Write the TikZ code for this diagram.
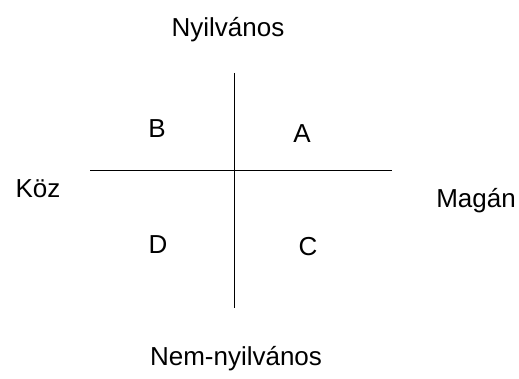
\documentclass[tikz,border=0pt]{standalone}
\usepackage{fontspec}
\setmainfont{Liberation Sans}
\begin{document}
\begin{tikzpicture}[x=1pt, y=-1pt, font=\fontsize{26}{30}\selectfont, line width=1pt]
	\useasboundingbox (0,0) rectangle (519,379);
	
	\coordinate (top) at (234,73);
	\coordinate (bottom) at (234,308);
	\coordinate (left) at (90,171);
	\coordinate (right) at (392,171);
	\draw (top) -- (bottom);
	\draw (left) -- (right);
	
	\node (pub) at (228,30) {Nyilvános};
	\node (nonpub) at (236,359) {Nem-nyilvános};
	\node (common) at (38,189) {Köz};
	\node (private) at (476,201) {Magán};
	
	\node (qB) at (157,129) {B};
	\node (qA) at (302,134) {A};
	\node (qD) at (158,245) {D};
	\node (qC) at (308,247) {C};
\end{tikzpicture}
\end{document}
